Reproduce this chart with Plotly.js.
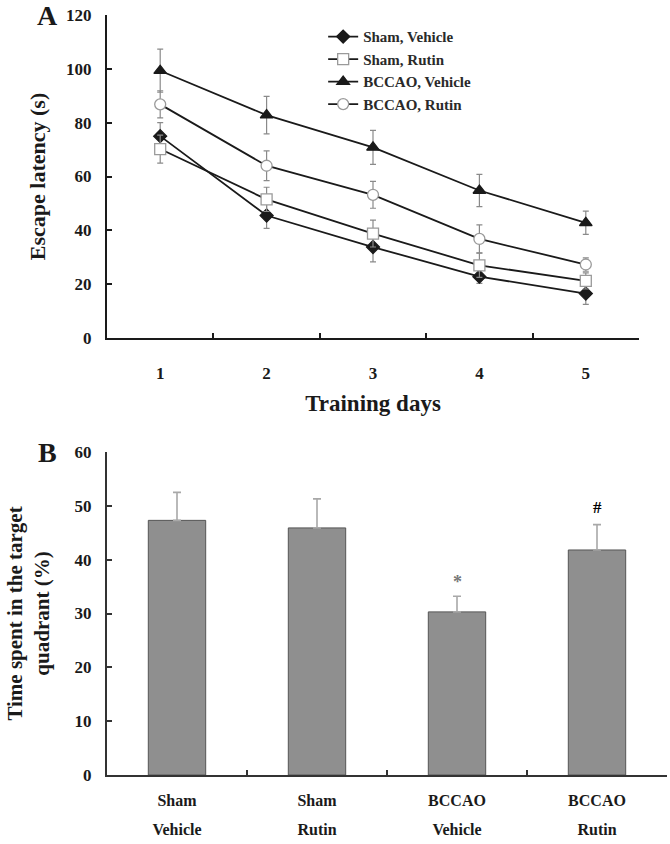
<!DOCTYPE html>
<html>
<head>
<meta charset="utf-8">
<script src="https://cdn.plot.ly/plotly-3.0.1.min.js"></script>
<style>html,body{margin:0;padding:0;background:#fff;}#chart{width:670px;height:844px;}</style>
</head>
<body>
<div id="chart"></div>
<script>
// ---- Panel A data ----
var days = ['1', '2', '3', '4', '5'];
var shamVehicle = [75, 45.5, 33.8, 22.8, 16.5];
var shamVehicleErr = [5, 4.8, 5.5, 2.5, 4];
var shamRutin = [70.2, 51.5, 38.8, 27, 21.2];
var shamRutinErr = [5.2, 4.5, 5, 4.5, 3];
var bccaoVehicle = [99.3, 82.8, 70.8, 54.8, 42.8];
var bccaoVehicleErr = [8, 7, 6.3, 6, 4.3];
var bccaoRutin = [86.8, 64, 53.2, 36.8, 27.3];
var bccaoRutinErr = [5, 5.5, 5, 5.2, 2.5];
var seriesNames = ['Sham, Vehicle', 'Sham, Rutin', 'BCCAO, Vehicle', 'BCCAO, Rutin'];

// ---- Panel B data ----
var groups = ['Sham Vehicle', 'Sham Rutin', 'BCCAO Vehicle', 'BCCAO Rutin'];
var groupLine1 = ['Sham', 'Sham', 'BCCAO', 'BCCAO'];
var groupLine2 = ['Vehicle', 'Rutin', 'Vehicle', 'Rutin'];
var timeSpent = [47.3, 45.9, 30.3, 41.8];
var timeSpentErr = [5.2, 5.4, 2.9, 4.7];
var signif = ['', '', '*', '#'];

var serif = 'Liberation Serif, Times New Roman, serif';
var ink = '#1a1a1a';

function lineTrace(y, err, name, symbol, fill, edge, size) {
  return {
    type: 'scatter', mode: 'lines+markers', x: days, y: y, name: name,
    xaxis: 'x', yaxis: 'y',
    line: {color: ink, width: 1.8},
    marker: {symbol: symbol, size: size, color: fill, line: {color: edge, width: 1.3}},
    error_y: {type: 'data', array: err, visible: true, color: '#8a8a8a', thickness: 1.2, width: 3}
  };
}

var traces = [
  lineTrace(shamVehicle, shamVehicleErr, seriesNames[0], 'diamond', ink, ink, 10),
  lineTrace(shamRutin, shamRutinErr, seriesNames[1], 'square', '#ffffff', '#9a9a9a', 11),
  lineTrace(bccaoVehicle, bccaoVehicleErr, seriesNames[2], 'triangle-up', ink, ink, 11),
  lineTrace(bccaoRutin, bccaoRutinErr, seriesNames[3], 'circle', '#ffffff', '#9a9a9a', 11),
  {
    type: 'bar', x: groups, y: timeSpent, xaxis: 'x2', yaxis: 'y2', showlegend: false,
    width: 0.41,
    marker: {color: '#8f8f8f', line: {color: '#555555', width: 1}},
    error_y: {type: 'data', symmetric: false, array: timeSpentErr, arrayminus: [0, 0, 0, 0],
              visible: true, color: '#a8a8a8', thickness: 1.6, width: 4}
  }
];

var tickTextB = groupLine1.map(function (a, i) {
  return '<span style="font-size:16px">' + a + '</span><br><span style="font-size:16px">' + groupLine2[i] + '</span>';
});

var annotations = [
  {text: 'A', xref: 'paper', yref: 'paper', x: -0.106, y: 1.0, xanchor: 'center', yanchor: 'middle',
   showarrow: false, font: {family: serif, size: 28, weight: 'bold', color: ink}},
  {text: 'B', xref: 'paper', yref: 'paper', x: -0.106, y: 0.424, xanchor: 'center', yanchor: 'middle',
   showarrow: false, font: {family: serif, size: 28, weight: 'bold', color: ink}}
];
signif.forEach(function (s, i) {
  if (!s) return;
  annotations.push({
    text: s, xref: 'x2', yref: 'y2', x: groups[i], y: timeSpent[i] + timeSpentErr[i],
    yanchor: 'bottom', yshift: s === '*' ? 2 : 6, showarrow: false,
    font: {family: serif, size: s === '*' ? 18 : 17, weight: 'bold', color: s === '*' ? '#777777' : '#000000'}
  });
});

var axisCommon = {
  showline: true, linecolor: ink, linewidth: 2, ticks: 'inside', ticklen: 5, tickwidth: 2,
  tickcolor: ink, showgrid: false, zeroline: false,
  tickfont: {family: serif, size: 17, weight: 'bold', color: ink}
};

var layout = {
  width: 670, height: 844,
  margin: {l: 107, r: 3, t: 15, b: 69},
  paper_bgcolor: '#ffffff', plot_bgcolor: '#ffffff',
  showlegend: true,
  legend: {x: 0.386, y: 0.993, xanchor: 'left', yanchor: 'top', bgcolor: 'rgba(0,0,0,0)',
           font: {family: serif, size: 15, weight: 'bold', color: '#2a2a2a'}, tracegroupgap: 0},
  xaxis: Object.assign({}, axisCommon, {
    domain: [0, 0.95], anchor: 'y', type: 'category', tickson: 'boundaries', range: [-0.5, 4.5],
    ticklabelstandoff: 19,
    title: {text: 'Training days', standoff: 12, font: {family: serif, size: 23, weight: 'bold', color: ink}}
  }),
  yaxis: Object.assign({}, axisCommon, {
    domain: [0.575, 1], anchor: 'x', range: [0, 120], dtick: 20, ticklabelstandoff: 10,
    title: {text: 'Escape latency (s)', standoff: 14, font: {family: serif, size: 22, weight: 'bold', color: ink}}
  }),
  xaxis2: Object.assign({}, axisCommon, {
    domain: [0, 1], anchor: 'y2', type: 'category', tickson: 'boundaries', range: [-0.5, 3.5],
    tickmode: 'array', tickvals: groups, ticktext: tickTextB, ticklabelstandoff: 3,
    linecolor: '#333333', tickcolor: '#333333',
    tickfont: {family: serif, size: 22, weight: 'bold', color: ink}
  }),
  yaxis2: Object.assign({}, axisCommon, {
    domain: [0, 0.425], anchor: 'x2', range: [0, 60], dtick: 10, ticklabelstandoff: 10,
    linecolor: '#333333', tickcolor: '#333333',
    title: {text: 'Time spent in the target<br>quadrant (%)', standoff: 19,
            font: {family: serif, size: 21, weight: 'bold', color: ink}}
  }),
  annotations: annotations
};

Plotly.newPlot('chart', traces, layout, {displayModeBar: false, staticPlot: true});
</script>
</body>
</html>
